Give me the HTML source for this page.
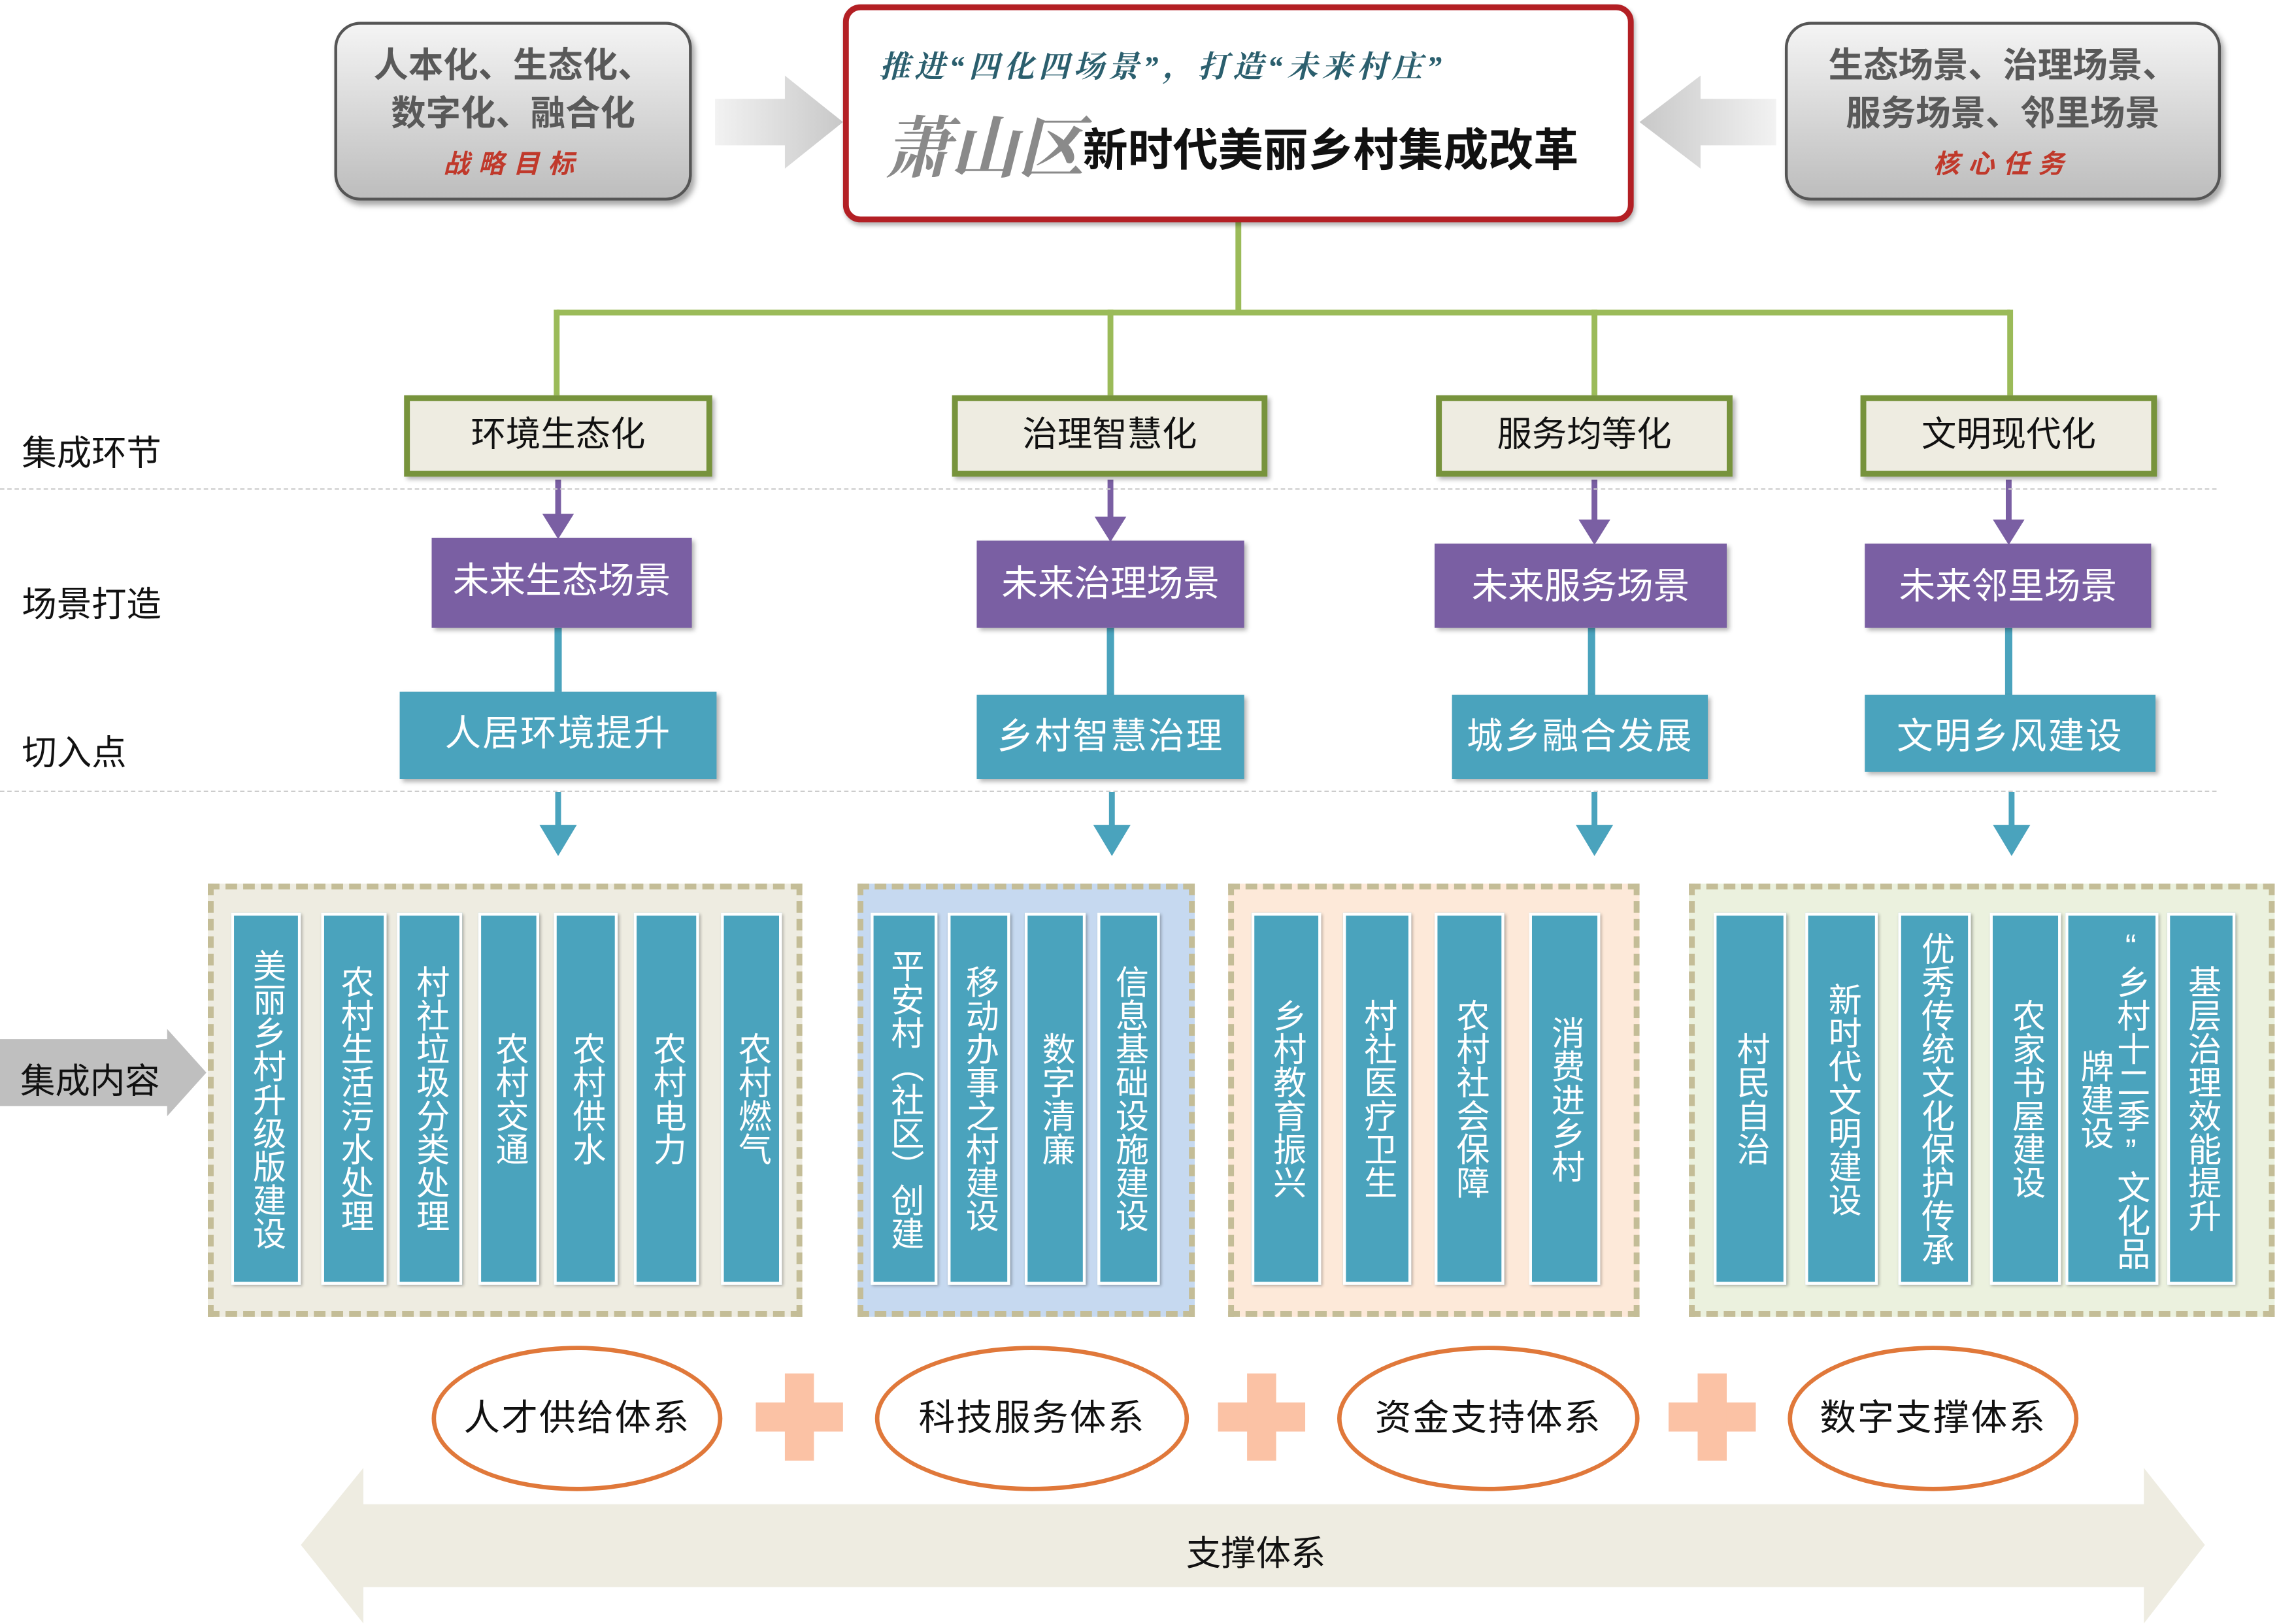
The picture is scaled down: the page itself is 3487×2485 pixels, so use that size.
<!DOCTYPE html>
<html><head><meta charset="utf-8">
<style>
html,body{margin:0;padding:0;background:#fff;}
body{width:3487px;height:2485px;overflow:hidden;}
#w{position:absolute;left:0;top:0;width:1568px;height:1117px;transform:scale(2.2239);transform-origin:0 0;font-family:"Liberation Sans","Noto Sans CJK SC",sans-serif;}
.a{position:absolute;box-sizing:border-box;}
.gbox{border:2px solid #555;border-radius:18px;background:linear-gradient(#f4f4f4,#bdbdbd);box-shadow:2px 3px 4px rgba(0,0,0,.35);text-align:center;color:#595959;font-size:24px;font-weight:bold;line-height:33px;padding-top:12px;}
.gbox .s{color:#c0392b;font-size:18px;line-height:22px;letter-spacing:6px;font-style:italic;}
.l1{border:4px solid #77933c;background:#eeece1;box-shadow:2px 2px 3px rgba(0,0,0,.3);font-size:24px;text-align:center;line-height:48px;color:#111;}
.pu{background:#7a5fa3;color:#fff;font-size:25px;text-align:center;line-height:60px;box-shadow:2px 2px 3px rgba(0,0,0,.3);}
.te{background:#4aa3bd;color:#fff;font-size:25px;text-align:center;line-height:58px;letter-spacing:1px;box-shadow:2px 2px 3px rgba(0,0,0,.3);}
.lab{font-size:24px;color:#111;}
.dash{border-top:1.5px dashed #ccc;height:0;}
.grp{border:4px dashed #c4bd97;}
.col{background:#4aa3bd;border:2px solid #fff;box-shadow:1px 1px 2px rgba(0,0,0,.3);color:#fff;font-size:23px;writing-mode:vertical-rl;text-orientation:upright;display:flex;align-items:center;justify-content:center;line-height:25px;letter-spacing:0;text-align:center;}
.ell{border:3px solid #e0783a;border-radius:50%;background:#fff;font-size:25px;text-align:center;color:#111;letter-spacing:1px;}
</style></head><body><div id="w">

<div class="a gbox" style="left:230px;top:15px;width:246px;height:123px;">人本化、生态化、<br>数字化、融合化<br><span class="s">战略目标</span></div>
<div class="a gbox" style="left:1228px;top:15px;width:300px;height:123px;">生态场景、治理场景、<br>服务场景、邻里场景<br><span class="s">核心任务</span></div>
<svg class="a" style="left:0;top:0" width="1568" height="1117">
 <defs>
  <linearGradient id="ga" x1="0" y1="0" x2="1" y2="0"><stop offset="0" stop-color="#f2f2f2"/><stop offset="1" stop-color="#c8c8c8"/></linearGradient>
  <linearGradient id="gb" x1="1" y1="0" x2="0" y2="0"><stop offset="0" stop-color="#f2f2f2"/><stop offset="1" stop-color="#c8c8c8"/></linearGradient>
 </defs>
 <polygon points="492,68 540,68 540,52 580,84 540,116 540,100 492,100" fill="url(#ga)"/>
 <polygon points="1222,68 1170,68 1170,52 1128,84 1170,116 1170,100 1222,100" fill="url(#gb)"/>
 <g stroke="#9bbb59" stroke-width="4" fill="none">
  <line x1="852" y1="152" x2="852" y2="215"/>
  <line x1="383" y1="215" x2="1383" y2="215"/>
  <line x1="383" y1="213" x2="383" y2="272"/>
  <line x1="764" y1="213" x2="764" y2="272"/>
  <line x1="1097" y1="213" x2="1097" y2="272"/>
  <line x1="1383" y1="213" x2="1383" y2="272"/>
 </g>
 <g fill="#7a5fa3" stroke="#7a5fa3" stroke-width="4">
  <line x1="384" y1="330" x2="384" y2="356"/><polygon points="374,354 394,354 384,370" stroke-width="1"/>
  <line x1="764" y1="330" x2="764" y2="358"/><polygon points="754,356 774,356 764,372" stroke-width="1"/>
  <line x1="1097" y1="330" x2="1097" y2="360"/><polygon points="1087,358 1107,358 1097,374" stroke-width="1"/>
  <line x1="1382" y1="330" x2="1382" y2="360"/><polygon points="1372,358 1392,358 1382,374" stroke-width="1"/>
 </g>
 <g stroke="#4aa3bd" stroke-width="5">
  <line x1="384" y1="432" x2="384" y2="476"/>
  <line x1="764" y1="432" x2="764" y2="478"/>
  <line x1="1095" y1="432" x2="1095" y2="478"/>
  <line x1="1382" y1="432" x2="1382" y2="478"/>
 </g>
 <g fill="#4aa3bd" stroke="#4aa3bd" stroke-width="4">
  <line x1="384" y1="545" x2="384" y2="572"/><polygon points="372,568 396,568 384,588" stroke-width="1"/>
  <line x1="765" y1="545" x2="765" y2="572"/><polygon points="753,568 777,568 765,588" stroke-width="1"/>
  <line x1="1097" y1="545" x2="1097" y2="572"/><polygon points="1085,568 1109,568 1097,588" stroke-width="1"/>
  <line x1="1384" y1="545" x2="1384" y2="572"/><polygon points="1372,568 1396,568 1384,588" stroke-width="1"/>
 </g>
 <polygon points="0,715 115,715 115,708 142,738 115,768 115,761 0,761" fill="#bfbfbf"/>
 <polygon points="207,1063 250,1010 250,1035 1475,1035 1475,1010 1517,1063 1475,1117 1475,1092 250,1092 250,1117" fill="#eeece1"/>
 <g fill="#fbc2a5">
  <rect x="520" y="965" width="60" height="20"/><rect x="540" y="945" width="20" height="60"/>
  <rect x="838" y="965" width="60" height="20"/><rect x="858" y="945" width="20" height="60"/>
  <rect x="1148" y="965" width="60" height="20"/><rect x="1168" y="945" width="20" height="60"/>
 </g>
</svg>

<div class="a" style="left:580px;top:3px;width:544px;height:150px;border:4px solid #b31f24;border-radius:12px;background:#fff;box-shadow:1px 2px 3px rgba(0,0,0,.3);"></div>
<div class="a" style="left:605px;top:30px;width:500px;font-size:21px;font-weight:bold;font-style:italic;color:#2b5f6e;font-family:'Liberation Serif','Noto Serif CJK SC',serif;letter-spacing:3px;white-space:nowrap;">推进“四化四场景”，打造“未来村庄”</div>
<div class="a" style="left:608px;top:66px;font-size:46px;font-weight:bold;color:#8a8a8a;font-family:'Noto Serif CJK SC',serif;font-style:italic;white-space:nowrap;">萧山区</div>
<div class="a" style="left:745px;top:78px;font-size:31px;font-weight:bold;color:#111;white-space:nowrap;">新时代美丽乡村集成改革</div>

<div class="a lab" style="left:15px;top:292px;">集成环节</div>
<div class="a lab" style="left:15px;top:396px;">场景打造</div>
<div class="a lab" style="left:15px;top:498px;">切入点</div>
<div class="a lab" style="left:14px;top:724px;">集成内容</div>
<div class="a dash" style="left:0;top:336px;width:1525px;"></div>
<div class="a dash" style="left:0;top:544px;width:1525px;"></div>

<div class="a l1" style="left:278px;top:272px;width:212px;height:56px;">环境生态化</div>
<div class="a l1" style="left:655px;top:272px;width:217px;height:56px;">治理智慧化</div>
<div class="a l1" style="left:988px;top:272px;width:204px;height:56px;">服务均等化</div>
<div class="a l1" style="left:1280px;top:272px;width:204px;height:56px;">文明现代化</div>

<div class="a pu" style="left:297px;top:370px;width:179px;height:62px;">未来生态场景</div>
<div class="a pu" style="left:672px;top:372px;width:184px;height:60px;">未来治理场景</div>
<div class="a pu" style="left:987px;top:374px;width:201px;height:58px;">未来服务场景</div>
<div class="a pu" style="left:1283px;top:374px;width:197px;height:58px;">未来邻里场景</div>

<div class="a te" style="left:275px;top:476px;width:218px;height:60px;">人居环境提升</div>
<div class="a te" style="left:672px;top:478px;width:184px;height:58px;">乡村智慧治理</div>
<div class="a te" style="left:999px;top:478px;width:176px;height:58px;">城乡融合发展</div>
<div class="a te" style="left:1283px;top:478px;width:200px;height:53px;">文明乡风建设</div>

<div class="a grp" style="left:143px;top:608px;width:409px;height:298px;background:#eeece1;"></div>
<div class="a grp" style="left:590px;top:608px;width:232px;height:298px;background:#c6d9f0;"></div>
<div class="a grp" style="left:845px;top:608px;width:283px;height:298px;background:#fde9d9;"></div>
<div class="a grp" style="left:1162px;top:608px;width:403px;height:298px;background:#ebf1de;"></div>

<div class="a col" style="left:159px;top:628px;width:48px;height:256px;">美丽乡村升级版建设</div>
<div class="a col" style="left:221px;top:628px;width:45px;height:256px;">农村生活污水处理</div>
<div class="a col" style="left:273px;top:628px;width:45px;height:256px;">村社垃圾分类处理</div>
<div class="a col" style="left:329px;top:628px;width:42px;height:256px;">农村交通</div>
<div class="a col" style="left:381px;top:628px;width:44px;height:256px;">农村供水</div>
<div class="a col" style="left:436px;top:628px;width:45px;height:256px;">农村电力</div>
<div class="a col" style="left:496px;top:628px;width:42px;height:256px;">农村燃气</div>

<div class="a col" style="left:599px;top:628px;width:46px;height:256px;">平安村（社区）创建</div>
<div class="a col" style="left:652px;top:628px;width:43px;height:256px;">移动办事之村建设</div>
<div class="a col" style="left:705px;top:628px;width:42px;height:256px;">数字清廉</div>
<div class="a col" style="left:755px;top:628px;width:43px;height:256px;">信息基础设施建设</div>

<div class="a col" style="left:861px;top:628px;width:48px;height:256px;">乡村教育振兴</div>
<div class="a col" style="left:924px;top:628px;width:47px;height:256px;">村社医疗卫生</div>
<div class="a col" style="left:987px;top:628px;width:48px;height:256px;">农村社会保障</div>
<div class="a col" style="left:1052px;top:628px;width:49px;height:256px;">消费进乡村</div>

<div class="a col" style="left:1179px;top:628px;width:50px;height:256px;">村民自治</div>
<div class="a col" style="left:1242px;top:628px;width:50px;height:256px;">新时代文明建设</div>
<div class="a col" style="left:1306px;top:628px;width:50px;height:256px;">优秀传统文化保护传承</div>
<div class="a col" style="left:1369px;top:628px;width:49px;height:256px;">农家书屋建设</div>
<div class="a col" style="left:1421px;top:628px;width:64px;height:256px;">“乡村十二季”文化品<br>牌建设</div>
<div class="a col" style="left:1491px;top:628px;width:47px;height:256px;">基层治理效能提升</div>

<div class="a ell" style="left:297px;top:926px;width:200px;height:100px;line-height:94px;">人才供给体系</div>
<div class="a ell" style="left:602px;top:926px;width:216px;height:100px;line-height:94px;">科技服务体系</div>
<div class="a ell" style="left:920px;top:926px;width:208px;height:100px;line-height:94px;">资金支持体系</div>
<div class="a ell" style="left:1230px;top:926px;width:200px;height:100px;line-height:94px;">数字支撑体系</div>

<div class="a" style="left:816px;top:1049px;font-size:24px;color:#111;">支撑体系</div>
</div></body></html>
